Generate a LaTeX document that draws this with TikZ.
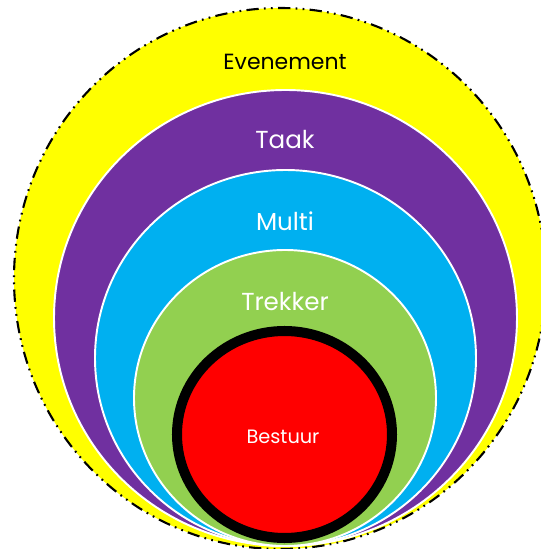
\documentclass[tikz,border=0pt]{standalone}
\usepackage{fontspec}
\setmainfont{Poppins}
\usepackage{tikz}
\usetikzlibrary{positioning}
\definecolor{myellow}{HTML}{FFFF00}
\definecolor{mpurple}{HTML}{7030A0}
\definecolor{mblue}{HTML}{00B0F0}
\definecolor{mgreen}{HTML}{92D050}
\definecolor{mred}{HTML}{FF0000}
\tikzset{layer/.style = {draw = white, line width = 1.1pt}}
\tikzset{lbl/.style = {text = white, font = \fontsize{14}{16}\selectfont}}

\begin{document}
\begin{tikzpicture}[x = 0.02cm, y = 0.02cm]
    \useasboundingbox (0, 0) rectangle (541, 549);

    \fill [myellow] (280, 270.5) ellipse [x radius = 266, y radius = 270.5];
    \draw [line width = 1.2pt, dash pattern = on 7pt off 3pt on 1pt off 3pt on 1pt off 3pt]
      (280, 270.5) ellipse [x radius = 266, y radius = 270.5];
    \filldraw [layer, fill = mpurple] (285.5, 231) ellipse [x radius = 231.5, y radius = 228];
    \filldraw [layer, fill = mblue] (285.5, 191) ellipse [x radius = 190.5, y radius = 188];
    \filldraw [layer, fill = mgreen] (285, 151) ellipse [x radius = 151, y radius = 148];
    \filldraw [draw = black, line width = 5.7pt, fill = mred] (284.5, 114.5) ellipse [x radius = 107.5, y radius = 103.5];

    \node [lbl, text = black, font = \fontsize{12.5}{15}\selectfont] (evenement) at (285, 487) {Evenement};
    \node [lbl] (taak) at (285, 409) {Taak};
    \node [lbl] (multi) at (285, 328) {Multi};
    \node [lbl] (trekker) at (285, 247) {Trekker};
    \node [lbl, font = \fontsize{11}{13}\selectfont] (bestuur) at (283, 112) {Bestuur};
\end{tikzpicture}
\end{document}
